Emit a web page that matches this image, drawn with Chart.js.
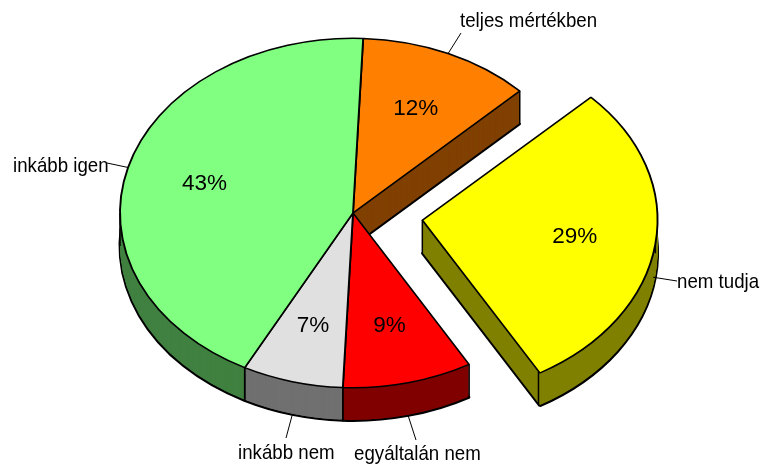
<!DOCTYPE html>
<html>
<head>
<meta charset="utf-8">
<style>html,body{margin:0;padding:0;background:#fff}canvas{display:block}</style>
<script src="https://cdn.jsdelivr.net/npm/chart.js@4"></script>
</head>
<body>
<canvas id="c" width="762" height="468"></canvas>
<script>
const categories = ['teljes mértékben', 'nem tudja', 'egyáltalán nem', 'inkább nem', 'inkább igen'];
const values = [12, 29, 9, 7, 43];
const topColors = ['#FF8000', '#FFFF00', '#FF0000', '#E0E0E0', '#80FF80'];
const sideColors = ['#804000', '#808000', '#800000', '#707070', '#408040'];
const explode = [0, 280, 0, 0, 0];

// layout (px): text anchor and leader end for each category
const labelX = [460, 677, 354, 238, 13];
const labelY = [27, 288, 460, 459, 172];
const leaderEndX = [461, 677, 416, 286, 107];
const leaderEndY = [33, 281, 440, 438, 163];

const SQUASH = 0.75, DEPTH = 33, TEXT_SCALE = 0.89;
const LABEL_FONT = '21px "Liberation Sans", Arial, sans-serif';
const PCT_FONT = '22.5px "Liberation Sans", Arial, sans-serif';

const pie3d = {
  id: 'pie3d',
  beforeDatasetDraw(chart) {
    const ctx = chart.ctx, arcs = chart.getDatasetMeta(0).data;
    const cy = arcs[0].y;
    const drawLayer = (dy, colors, bw) => {
      ctx.save();
      ctx.translate(0, cy + dy);
      ctx.scale(1, SQUASH);
      ctx.translate(0, -cy);
      arcs.forEach((a, i) => {
        const saved = a.options;
        a.options = Object.assign({}, saved, {
          backgroundColor: colors[i],
          borderColor: bw ? '#000' : colors[i],
          borderWidth: bw
        });
        a.draw(ctx);
        a.options = saved;
      });
      ctx.restore();
    };
    const point = (a, off, ang, r) => {
      const m = (a.startAngle + a.endAngle) / 2;
      return [a.x + Math.cos(m) * off + Math.cos(ang) * r,
              cy + (Math.sin(m) * off + Math.sin(ang) * r) * SQUASH];
    };
    // walls
    drawLayer(DEPTH, sideColors, 3);
    for (let d = DEPTH - 1; d >= 1; d--) drawLayer(d, sideColors, 0);
    // vertical edges of the walls
    ctx.save();
    ctx.strokeStyle = '#000';
    ctx.lineWidth = 1.5;
    arcs.forEach((a, i) => {
      const off = explode[i] / 4;
      const angs = [a.startAngle, a.endAngle];
      [0, Math.PI, 2 * Math.PI].forEach(t => { if (t > a.startAngle && t < a.endAngle) angs.push(t); });
      const pts = angs.map(t => point(a, off, t, a.outerRadius));
      pts.push(point(a, off, 0, 0));
      pts.forEach(p => {
        ctx.beginPath();
        ctx.moveTo(p[0], p[1]);
        ctx.lineTo(p[0], p[1] + DEPTH);
        ctx.stroke();
      });
    });
    ctx.restore();
    // top faces
    drawLayer(0, topColors, 1.9);

    // leader lines and texts
    ctx.save();
    ctx.fillStyle = '#000';
    ctx.textBaseline = 'alphabetic';
    arcs.forEach((a, i) => {
      const off = explode[i] / 4;
      const m = (a.startAngle + a.endAngle) / 2;
      const p = point(a, off, m, a.outerRadius);
      const sy = Math.sin(m) > 0.05 ? p[1] + DEPTH : p[1];
      ctx.strokeStyle = '#000';
      ctx.lineWidth = 1;
      ctx.beginPath();
      ctx.moveTo(p[0], sy);
      ctx.lineTo(leaderEndX[i], leaderEndY[i]);
      ctx.stroke();

      ctx.save();
      ctx.font = LABEL_FONT;
      ctx.textAlign = 'left';
      ctx.translate(labelX[i], labelY[i]);
      ctx.scale(TEXT_SCALE, 1);
      ctx.fillText(categories[i], 0, 0);
      ctx.restore();

      const c = point(a, off, m, a.outerRadius * 0.66);
      ctx.font = PCT_FONT;
      ctx.textAlign = 'center';
      ctx.textBaseline = 'middle';
      ctx.fillText(values[i] + '%', c[0], c[1] + 1);
      ctx.textBaseline = 'alphabetic';
    });
    ctx.restore();
    return false;
  }
};

new Chart(document.getElementById('c'), {
  type: 'pie',
  data: {
    labels: categories,
    datasets: [{
      data: values,
      backgroundColor: topColors,
      borderColor: '#000',
      borderWidth: 1.9,
      offset: explode,
      hoverOffset: 0,
      clip: false
    }]
  },
  options: {
    responsive: false,
    animation: false,
    rotation: 2.5,
    radius: 233,
    events: [],
    layout: { padding: { left: 0, top: 0, right: 56, bottom: 42 } },
    plugins: { legend: { display: false }, tooltip: { enabled: false } }
  },
  plugins: [pie3d]
});
</script>
</body>
</html>
